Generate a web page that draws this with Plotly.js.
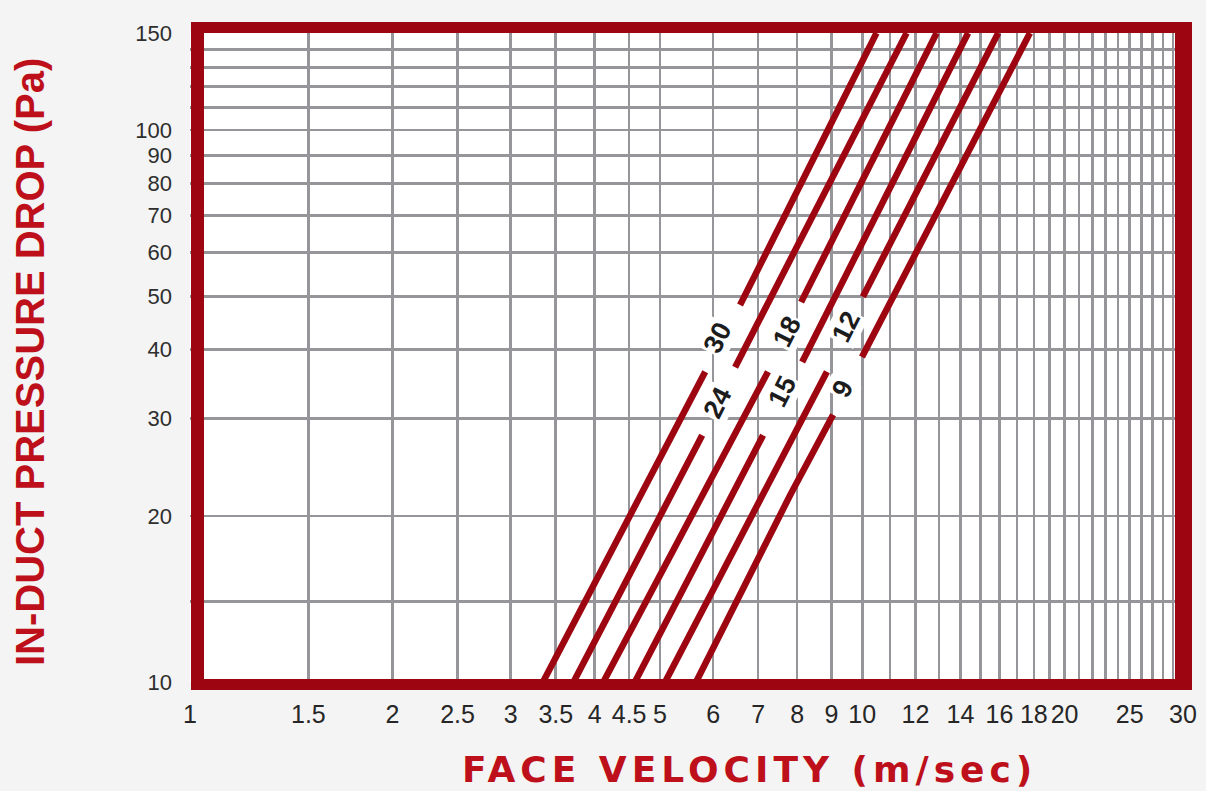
<!DOCTYPE html>
<html>
<head>
<meta charset="utf-8">
<script src="https://cdn.plot.ly/plotly-3.0.1.min.js"></script>
<style>
  html, body { margin: 0; padding: 0; background: #f4f4f4; }
  #chart { width: 1206px; height: 791px; }
</style>
</head>
<body>
<div id="chart"></div>
<script>
// ---- data ----
const xGridVals = [1, 1.5, 2, 2.5, 3, 3.5, 4, 4.5, 5, 6, 7, 8, 9, 10, 11, 12, 13, 14, 15, 16, 17, 18, 19, 20, 21, 22, 23, 24, 25, 26, 27, 28, 29, 30];
const xTickLabels = ['1', '1.5', '2', '2.5', '3', '3.5', '4', '4.5', '5', '6', '7', '8', '9', '10', '12', '14', '16', '18', '20', '25', '30'];
const yGridVals = [10, 14, 20, 30, 40, 50, 60, 70, 80, 90, 100, 110, 120, 130, 140, 150];
const yTickLabels = ['10', '20', '30', '40', '50', '60', '70', '80', '90', '100', '150'];

const seriesNames = ['30', '24', '18', '15', '12', '9'];
// face velocity (m/sec), null = gap where the curve label sits
const vel30 = [3.35, 5.36, 5.84, null, 6.58, 10.5];
const dp30  = [10, 29.9, 36.5, null, 48.2, 150];
const vel24 = [3.72, 5.78, null, 6.47, 11.64];
const dp24  = [10, 28.0, null, 37.2, 150];
const vel18 = [4.12, 6.62, 7.24, null, 8.11, 12.9];
const dp18  = [10, 29.9, 36.5, null, 48.8, 150];
const vel15 = [4.59, 7.12, null, 8.14, 14.37];
const dp15  = [10, 28.0, null, 38.0, 150];
const vel12 = [5.09, 7.81, 8.86, null, 10.02, 15.93];
const dp12  = [10, 27.3, 36.5, null, 49.9, 150];
const vel9  = [5.66, 7.81, 9.05, null, 9.99, 17.76];
const dp9   = [10, 21.8, 30.5, null, 38.8, 150];

// label anchor points on each curve (velocity, pressure)
const labelVel = [6.08, 6.08, 7.72, 7.59, 9.45, 9.34];
const labelDp  = [42.1, 32.1, 43.1, 33.6, 44.0, 34.0];

// ---- build ----
const RED = '#9d0610';
const velSets = [vel30, vel24, vel18, vel15, vel12, vel9];
const dpSets  = [dp30, dp24, dp18, dp15, dp12, dp9];

const traces = seriesNames.map((name, i) => ({
  type: 'scatter',
  mode: 'lines',
  name: name,
  x: velSets[i],
  y: dpSets[i],
  connectgaps: false,
  line: { color: RED, width: 6.5 },
  hoverinfo: 'skip'
}));

const xTickText = xGridVals.map(v => xTickLabels.includes(String(v)) ? String(v) : '');
const yTickText = yGridVals.map(v => yTickLabels.includes(String(v)) ? String(v) : '');

const L = 190, T = 33, W = 993, H = 649;
const px = p => (p - L) / W;
const py = p => (T + H - p) / H;

const border = [
  [191, 204, 22, 690],
  [1175, 1192, 22, 690],
  [191, 1192, 22, 33],
  [191, 1192, 679, 690]
].map(r => ({
  type: 'rect', xref: 'paper', yref: 'paper', layer: 'above',
  x0: px(r[0]), x1: px(r[1]), y0: py(r[3]), y1: py(r[2]),
  fillcolor: RED, line: { width: 0 }
}));

const curveLabels = seriesNames.map((name, i) => ({
  x: Math.log10(labelVel[i]),
  y: Math.log10(labelDp[i]),
  xref: 'x', yref: 'y',
  text: name,
  showarrow: false,
  textangle: -63,
  bgcolor: '#ffffff',
  borderpad: 1,
  font: { family: 'Liberation Sans, Arial, sans-serif', size: 27, color: '#1c1c1c', weight: 'bold' }
}));

const titles = [
  {
    xref: 'paper', yref: 'paper',
    x: px(749), y: py(769),
    xanchor: 'center', yanchor: 'middle',
    text: '<span style="letter-spacing:5px">FACE VELOCITY (m/sec)</span>',
    showarrow: false,
    font: { family: 'DejaVu Sans, Liberation Sans, sans-serif', size: 36, color: '#bd101b', weight: 'bold' }
  },
  {
    xref: 'paper', yref: 'paper',
    x: px(30), y: py(362),
    xanchor: 'center', yanchor: 'middle',
    text: 'IN-DUCT PRESSURE DROP (Pa)',
    textangle: -90,
    showarrow: false,
    font: { family: 'Liberation Sans, Arial, sans-serif', size: 40, color: '#bd101b', weight: 'bold' }
  }
];

const layout = {
  width: 1206, height: 791,
  margin: { l: L, r: 1206 - L - W, t: T, b: 791 - T - H, pad: 0 },
  paper_bgcolor: '#f4f4f4',
  plot_bgcolor: '#ffffff',
  showlegend: false,
  xaxis: {
    type: 'log',
    range: [0, Math.log10(30)],
    tickmode: 'array',
    tickvals: xGridVals,
    ticktext: xTickText,
    tickangle: 0,
    ticks: '',
    ticklabelstandoff: 15,
    showgrid: true,
    gridcolor: '#95959a',
    gridwidth: 2.6,
    showline: false,
    zeroline: false,
    tickfont: { family: 'Liberation Sans, Arial, sans-serif', size: 25, color: '#262626' },
    fixedrange: true
  },
  yaxis: {
    type: 'log',
    range: [1, Math.log10(150)],
    tickmode: 'array',
    tickvals: yGridVals,
    ticktext: yTickText,
    ticks: '',
    ticklabelstandoff: 17,
    showgrid: true,
    gridcolor: '#95959a',
    gridwidth: 2.6,
    showline: false,
    zeroline: false,
    tickfont: { family: 'Liberation Sans, Arial, sans-serif', size: 22, color: '#2e2e2e' },
    fixedrange: true
  },
  shapes: border,
  annotations: curveLabels.concat(titles)
};

Plotly.newPlot('chart', traces, layout, { displayModeBar: false, staticPlot: true });
</script>
</body>
</html>
